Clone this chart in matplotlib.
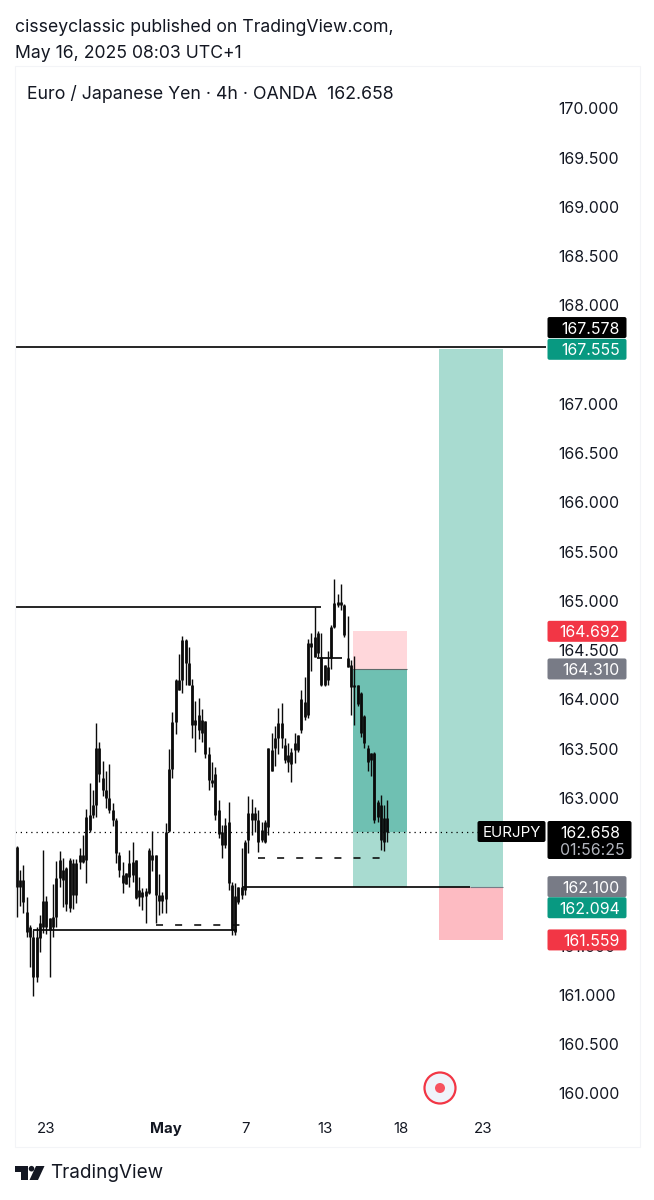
from matplotlib.patches import Circle, FancyBboxPatch, Polygon, Rectangle
import matplotlib.pyplot as plt

plt.rcParams["font.family"] = ["Inter", "DejaVu Sans"]

# candles, all drawn black in the original
highs = [
    162.51, 162.27, 162.32, 161.99, 161.71, 161.66, 161.69, 161.81, 162.47, 162.01,
    161.78, 162.13, 162.36, 162.46, 162.39, 162.30, 162.39, 162.38, 162.38, 162.49,
    162.62, 162.89, 163.15, 163.08, 163.76, 163.57, 163.38, 163.27, 163.34, 162.95,
    162.80, 162.45, 162.35, 162.24, 162.47, 162.55, 162.37, 162.20, 162.09, 162.09,
    162.49, 162.66, 162.42, 162.23, 162.05, 162.75, 163.50, 163.87, 164.21, 164.46,
    164.64, 164.61, 164.53, 164.21, 163.98, 164.02, 163.90, 163.78, 163.52, 163.37,
    163.31, 162.98, 162.73, 162.80, 162.96, 162.15, 162.14, 162.10, 162.49, 162.57,
    163.02, 162.99, 162.91, 162.88, 162.76, 162.78, 163.51, 163.66, 163.73, 163.91,
    163.96, 163.61, 163.56, 163.51, 163.66, 163.64, 164.10, 164.23, 164.61, 164.68,
    164.94, 164.70, 164.68, 164.35, 164.49, 164.76, 165.22, 165.07, 165.17, 164.97,
    164.85, 164.40, 164.44, 164.15, 164.08, 163.84, 163.54, 163.46, 163.47, 162.98,
    163.03, 162.93, 162.98,
]
lows = [
    161.79, 161.90, 161.83, 161.59, 161.28, 160.99, 161.13, 161.44, 161.63, 161.62,
    161.18, 161.59, 161.69, 162.10, 161.89, 161.85, 161.84, 161.87, 161.93, 162.28,
    162.34, 162.14, 162.65, 162.80, 162.81, 163.16, 163.02, 162.90, 162.85, 162.72,
    162.34, 162.20, 162.04, 162.13, 162.10, 162.15, 161.97, 161.90, 161.86, 161.73,
    162.03, 162.26, 161.73, 161.81, 161.83, 161.83, 162.65, 163.20, 163.65, 164.10,
    164.07, 164.15, 164.15, 163.61, 163.47, 163.60, 163.57, 163.41, 163.08, 163.11,
    162.78, 162.59, 162.39, 162.49, 162.07, 161.61, 161.61, 161.92, 161.97, 162.02,
    162.44, 162.62, 162.65, 162.45, 162.55, 162.54, 162.62, 163.27, 163.32, 163.45,
    163.51, 163.36, 163.26, 163.16, 163.36, 163.47, 163.66, 163.79, 163.81, 164.29,
    164.43, 164.43, 164.14, 164.14, 164.15, 164.31, 164.73, 164.94, 164.91, 164.63,
    164.33, 163.84, 163.74, 163.93, 163.62, 163.51, 163.27, 163.22, 162.75, 162.76,
    162.47, 162.46, 162.55,
]
body_tops = [
    162.50, 162.17, 162.17, 161.84, 161.69, 161.59, 161.59, 161.73, 161.95, 161.95,
    161.78, 161.79, 162.19, 162.37, 162.27, 162.29, 162.37, 162.34, 162.34, 162.42,
    162.42, 162.81, 162.83, 162.93, 163.51, 163.51, 163.20, 163.08, 163.00, 162.88,
    162.78, 162.42, 162.22, 162.24, 162.34, 162.35, 162.37, 162.07, 162.05, 162.06,
    162.47, 162.42, 162.42, 162.02, 162.02, 162.65, 163.29, 163.77, 164.20, 164.20,
    164.60, 164.60, 164.37, 164.15, 163.79, 163.84, 163.79, 163.78, 163.45, 163.18,
    163.24, 162.88, 162.65, 162.73, 162.76, 162.12, 162.00, 162.10, 162.10, 162.55,
    162.85, 162.85, 162.85, 162.78, 162.68, 162.76, 163.51, 163.49, 163.61, 163.76,
    163.76, 163.54, 163.44, 163.47, 163.56, 163.64, 164.00, 163.97, 164.57, 164.57,
    164.63, 164.68, 164.43, 164.35, 164.33, 164.74, 164.98, 164.99, 164.99, 164.96,
    164.42, 164.35, 164.15, 164.15, 164.07, 163.83, 163.51, 163.46, 163.46, 162.96,
    162.93, 162.80, 162.80,
]
body_bottoms = [
    162.10, 162.10, 161.94, 161.64, 161.59, 161.18, 161.18, 161.58, 161.69, 161.69,
    161.66, 161.69, 161.79, 162.19, 162.17, 161.92, 161.88, 162.02, 162.02, 162.35,
    162.35, 162.37, 162.68, 162.83, 162.93, 163.24, 163.08, 163.00, 162.88, 162.78,
    162.44, 162.27, 162.14, 162.13, 162.20, 162.22, 161.98, 161.99, 161.99, 162.01,
    162.04, 162.37, 162.02, 161.95, 161.95, 161.97, 162.66, 163.29, 163.77, 164.10,
    164.20, 164.37, 164.15, 163.74, 163.74, 163.69, 163.66, 163.45, 163.18, 163.15,
    162.83, 162.63, 162.52, 162.52, 162.14, 161.66, 161.64, 161.94, 162.02, 162.07,
    162.57, 162.78, 162.78, 162.55, 162.57, 162.55, 162.71, 163.27, 163.51, 163.61,
    163.61, 163.39, 163.37, 163.34, 163.49, 163.49, 163.69, 163.82, 163.84, 164.53,
    164.43, 164.47, 164.15, 164.15, 164.20, 164.42, 164.74, 164.96, 164.96, 164.65,
    164.33, 164.13, 164.13, 163.95, 163.66, 163.56, 163.37, 163.39, 162.78, 162.81,
    162.57, 162.55, 162.658,
]

# 162.0, 162.5 and 167.5 sit fully behind the price tags in the original
price_ticks = [160.0, 160.5, 161.0, 161.5, 163.0, 163.5, 164.0, 164.5, 165.0, 165.5, 166.0,
               166.5, 167.0, 168.0, 168.5, 169.0, 169.5, 170.0]
date_ticks = [9, 45, 69, 93, 116, 141]
date_labels = ["23", "May", "7", "13", "18", "23"]

last_price = 162.658
entry_short = 164.310
stop_short = 164.692
entry_long = 162.100
stop_long = 161.559
target_long = 167.555
top_level = 167.578
resistance = 164.94
support = 161.66
mid_level = 164.42
dash_low = 161.71
dash_mid = 162.39

INK = "#131722"
W, H = 654, 1200
L, R, T, B = 15, 546, 67, 1113

fig = plt.figure(figsize=(W / 100, H / 100), dpi=100)
ax = fig.add_axes([L / W, 1 - B / H, (R - L) / W, (B - T) / H])
ax.set_xlim(-0.51, 159.9)
ax.set_ylim(159.802, 170.421)
for spine in ax.spines.values():
    spine.set_visible(False)

# position boxes
ax.add_patch(Rectangle((101.7, entry_short), 16.3, stop_short - entry_short, color="#FFD7DB", lw=0))
ax.add_patch(Rectangle((101.7, last_price), 16.3, entry_short - last_price, color="#6FC0B2", lw=0))
ax.add_patch(Rectangle((101.7, entry_long), 16.3, last_price - entry_long, color="#A8DBD0", lw=0))
ax.add_patch(Rectangle((127.6, entry_long), 19.4, target_long - entry_long, color="#A8DBD0", lw=0))
ax.add_patch(Rectangle((127.6, stop_long), 19.4, entry_long - stop_long, color="#FDBBC2", lw=0))
ax.hlines(entry_short, 101.7, 118, color="#5F6B6B", lw=0.8)
ax.hlines(entry_long, 137, 147, color="#787B86", lw=0.8)

# horizontal levels
ax.axhline(top_level, color="black", lw=1.2)
ax.hlines(resistance, -0.51, 92, color="black", lw=1.2)
ax.hlines(entry_long, 68.4, 137, color="black", lw=1.2)
ax.hlines(support, 5, 66.5, color="black", lw=1.2)
ax.hlines(mid_level, 90.7, 98.3, color="black", lw=1.2)
ax.hlines(dash_low, 42, 69, color="black", lw=1.1, linestyles=[(0, (4.6, 7.9))])
ax.hlines(dash_mid, 72.8, 110, color="black", lw=1.1, linestyles=[(0, (4.6, 7.9))])
ax.hlines(last_price, -0.51, 139.5, color="black", lw=0.9, linestyles=[(0, (1, 3.2))])

# candles
xs = list(range(len(highs)))
ax.vlines(xs, lows, highs, color="#0A0A0A", lw=1.0)
ax.vlines(xs, body_bottoms, body_tops, color="#0A0A0A", lw=2.0)

ax.yaxis.tick_right()
ax.set_yticks(price_ticks, [f"{p:.3f}" for p in price_ticks])
ax.set_xticks(date_ticks, date_labels)
ax.tick_params(axis="x", length=0, labelsize=10.8, labelcolor=INK, pad=6.5)
ax.tick_params(axis="y", length=0, labelsize=11.4, labelcolor=INK, pad=8.6)
for lab in ax.get_xticklabels():
    if lab.get_text() == "May":
        lab.set_fontweight("bold")

# overlay in pixel coordinates for the frame, tags, header and logo
fa = fig.add_axes([0, 0, 1, 1], zorder=5)
fa.set_xlim(0, W)
fa.set_ylim(H, 0)
fa.axis("off")
fa.add_patch(Rectangle((15, 66), 625, 1081, fill=False, ec="#F3F4F7", lw=0.8))


def py(price):
    return fa.transData.inverted().transform(ax.transData.transform((0, price)))[1]


def tag(price, text, color, shift=0):
    yc = py(price) + shift
    fa.add_patch(FancyBboxPatch((548, yc - 10), 78, 20, boxstyle="round,pad=0.5,rounding_size=2", fc=color, ec="none"))
    fa.text(620, yc, text, color="white", fontsize=11.4, ha="right", va="center_baseline")


tag(top_level, "167.578", "black", -19.5)
tag(target_long, "167.555", "#089981")
tag(stop_short, "164.692", "#F23645")
tag(entry_short, "164.310", "#787B86")
tag(entry_long, "162.100", "#787B86")
tag(entry_long - 0.006, "162.094", "#089981", 20.5)
tag(stop_long, "161.559", "#F23645")

# last price tag with countdown
fa.add_patch(FancyBboxPatch((548, 821.5), 83, 37, boxstyle="round,pad=0.5,rounding_size=2", fc="black", ec="none"))
fa.add_patch(FancyBboxPatch((478, 821.5), 67, 20, boxstyle="round,pad=0.5,rounding_size=2", fc="black", ec="none"))
fa.text(512, 831.5, "EURJPY", color="white", fontsize=10.8, ha="center", va="center_baseline")
fa.text(620, 831.5, f"{last_price:.3f}", color="white", fontsize=11.4, ha="right", va="center_baseline")
fa.text(625, 849, "01:56:25", color="#B2B5BE", fontsize=11.4, ha="right", va="center_baseline")

# record button
fa.add_patch(Circle((440, 1088), 15.5, fc="#F0F3FA", ec="#F23645", lw=1.6))
fa.add_patch(Circle((440, 1088), 5, fc="#F7525F", ec="none"))

# header
fa.text(15, 28, "cisseyclassic published on TradingView.com,", color=INK, fontsize=12.7, va="center")
fa.text(15, 54, "May 16, 2025 08:03 UTC+1", color=INK, fontsize=12.7, va="center")
fa.text(27, 94, f"Euro / Japanese Yen · 4h · OANDA  {last_price:.3f}", color=INK, fontsize=12.8, va="center")

# logo
fa.add_patch(Polygon([(15, 1166), (28, 1166), (28, 1180), (21, 1180), (21, 1172), (15, 1172)], fc=INK, ec="none"))
fa.add_patch(Circle((31.5, 1168.7), 2.8, fc=INK, ec="none"))
fa.add_patch(Polygon([(36, 1166), (44.5, 1166), (38, 1180), (29.5, 1180)], fc=INK, ec="none"))
fa.text(50, 1173, "TradingView", color=INK, fontsize=13.6, va="center")

fig.savefig("out.png", dpi=100)
